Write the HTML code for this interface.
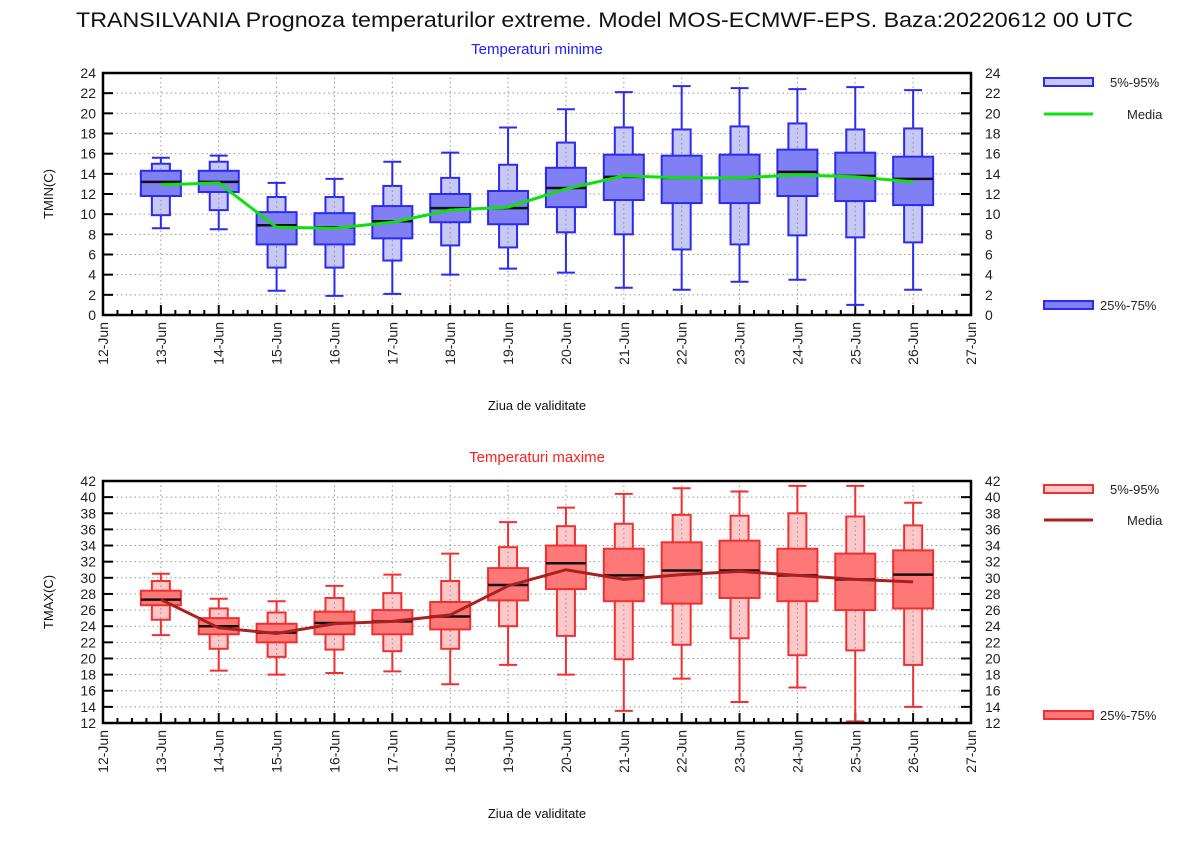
<!DOCTYPE html>
<html><head><meta charset="utf-8"><style>
html,body{margin:0;padding:0;background:#fff;}
svg text{font-family:"Liberation Sans",sans-serif;}
</style></head><body>
<svg id="s" width="1200" height="840" xmlns="http://www.w3.org/2000/svg"></svg>
<script>
const S=document.getElementById('s');let h='';
h+='<text x="76" y="27" font-size="21" fill="#111" textLength="1057" lengthAdjust="spacingAndGlyphs">TRANSILVANIA  Prognoza temperaturilor extreme.  Model MOS-ECMWF-EPS. Baza:20220612 00 UTC</text>';
const days=['12-Jun','13-Jun','14-Jun','15-Jun','16-Jun','17-Jun','18-Jun','19-Jun','20-Jun','21-Jun','22-Jun','23-Jun','24-Jun','25-Jun','26-Jun','27-Jun'];
const X0=103,X1=971,dx=(X1-X0)/15;
function chart(o){
 const {top,bot,vmin,vmax,data,media,title,tcol,ylab,iq,iqs,inn,mcol}=o;
 const Y=v=>bot-(v-vmin)*(bot-top)/(vmax-vmin);
 h+=`<text x="537" y="${top-19}" font-size="15" fill="${tcol}" text-anchor="middle">${title}</text>`;
 for(let v=vmin;v<=vmax;v+=2){const y=Y(v);
  if(v>vmin&&v<vmax)h+=`<line x1="${X0}" x2="${X1}" y1="${y}" y2="${y}" stroke="#999" stroke-dasharray="1.5,3"/>`;
  h+=`<line x1="${X0}" x2="${X0+10}" y1="${y}" y2="${y}" stroke="#000" stroke-width="2"/><line x1="${X1-10}" x2="${X1}" y1="${y}" y2="${y}" stroke="#000" stroke-width="2"/>`;
  h+=`<text x="${X0-7}" y="${y+5}" font-size="14" text-anchor="end" fill="#222">${v}</text><text x="${X1+14}" y="${y+5}" font-size="14" fill="#222">${v}</text>`;}
 for(let i=0;i<=15;i++){const x=X0+i*dx;
  if(i>0&&i<15)h+=`<line x1="${x}" x2="${x}" y1="${top}" y2="${bot}" stroke="#999" stroke-dasharray="1.5,3"/>`;
  h+=`<line x1="${x}" x2="${x}" y1="${bot}" y2="${bot-10}" stroke="#000" stroke-width="2"/>`;
  for(let k=1;k<4;k++){const xx=x+k*dx/4;if(i<15)h+=`<line x1="${xx}" x2="${xx}" y1="${bot}" y2="${bot-5}" stroke="#000" stroke-width="2"/>`;}
  h+=`<text transform="translate(${x+5},${bot+7}) rotate(-90)" font-size="14" text-anchor="end" fill="#222">${days[i]}</text>`;}
 data.forEach((d,i)=>{const x=X0+(i+1)*dx;const [w0,w1,i0,i1,q0,q1,m]=d;
  h+=`<line x1="${x}" x2="${x}" y1="${Y(w0)}" y2="${Y(w1)}" stroke="${iqs}" stroke-width="2"/>`;
  h+=`<line x1="${x-9}" x2="${x+9}" y1="${Y(w0)}" y2="${Y(w0)}" stroke="${iqs}" stroke-width="2"/><line x1="${x-9}" x2="${x+9}" y1="${Y(w1)}" y2="${Y(w1)}" stroke="${iqs}" stroke-width="2"/>`;
  h+=`<rect x="${x-9}" y="${Y(i1)}" width="18" height="${Y(i0)-Y(i1)}" fill="${inn}" stroke="${iqs}" stroke-width="2"/>`;
  h+=`<line x1="${x}" x2="${x}" y1="${Y(i1)}" y2="${Y(i0)}" stroke="#88a" stroke-dasharray="1.5,3"/>`;
  h+=`<rect x="${x-20}" y="${Y(q1)}" width="40" height="${Y(q0)-Y(q1)}" fill="${iq}" stroke="${iqs}" stroke-width="2"/>`;
  h+=`<line x1="${x-20}" x2="${x+20}" y1="${Y(m)}" y2="${Y(m)}" stroke="#111" stroke-width="2.5"/>`;});
 h+=`<polyline fill="none" stroke="${mcol}" stroke-width="3" points="${media.map((v,i)=>(X0+(i+1)*dx)+','+Y(v)).join(' ')}"/>`;
 h+=`<rect x="${X0}" y="${top}" width="${X1-X0}" height="${bot-top}" fill="none" stroke="#000" stroke-width="2.5"/>`;
 h+=`<text transform="translate(53,${(top+bot)/2}) rotate(-90)" font-size="13" text-anchor="middle" fill="#111">${ylab}</text>`;
 h+=`<text x="537" y="${bot+95}" font-size="13" text-anchor="middle" fill="#111">Ziua de validitate</text>`;
 const L=o.leg;
 h+=`<rect x="1044" y="${L[0]-4}" width="49" height="8" fill="${inn}" stroke="${iqs}" stroke-width="2"/><text x="1110" y="${L[0]+5}" font-size="13" fill="#222">5%-95%</text>`;
 h+=`<line x1="1044" x2="1093" y1="${L[1]}" y2="${L[1]}" stroke="${mcol}" stroke-width="3"/><text x="1127" y="${L[1]+5}" font-size="13" fill="#222">Media</text>`;
 h+=`<rect x="1044" y="${L[2]-4}" width="49" height="8" fill="${iq}" stroke="${iqs}" stroke-width="2"/><text x="1100" y="${L[2]+5}" font-size="13" fill="#222">25%-75%</text>`;
}
chart({top:73,bot:315,vmin:0,vmax:24,title:'Temperaturi minime',tcol:'#2020ff',ylab:'TMIN(C)',iq:'#8080f4',iqs:'#2a2af0',inn:'#c8c8f4',mcol:'#10e010',leg:[82,114,305],
data:[[8.6,15.6,9.9,15,11.8,14.3,13.2],[8.5,15.8,10.4,15.2,12.2,14.3,13.2],[2.4,13.1,4.7,11.7,7,10.2,8.9],[1.9,13.5,4.7,11.7,7,10.1,8.7],[2.1,15.2,5.4,12.8,7.6,10.8,9.3],[4,16.1,6.9,13.6,9.2,12,10.6],[4.6,18.6,6.7,14.9,9,12.3,10.6],[4.2,20.4,8.2,17.1,10.7,14.6,12.6],[2.7,22.1,8,18.6,11.4,15.9,13.7],[2.5,22.7,6.5,18.4,11.1,15.8,13.6],[3.3,22.5,7,18.7,11.1,15.9,13.6],[3.5,22.4,7.9,19,11.8,16.4,14.2],[1,22.6,7.7,18.4,11.3,16.1,13.8],[2.5,22.3,7.2,18.5,10.9,15.7,13.5]],
media:[12.9,13.1,8.7,8.6,9.2,10.4,10.7,12.5,13.8,13.6,13.6,13.9,13.7,13.2]});
chart({top:481,bot:723,vmin:12,vmax:42,title:'Temperaturi maxime',tcol:'#ff2020',ylab:'TMAX(C)',iq:'#ff7878',iqs:'#f03030',inn:'#ffc8c8',mcol:'#a82020',leg:[489,520,715],
data:[[22.9,30.5,24.8,29.6,26.6,28.4,27.3],[18.5,27.4,21.2,26.2,23,25,24],[18,27.1,20.2,25.7,22,24.3,23.2],[18.2,29,21.1,27.5,23,25.8,24.4],[18.4,30.4,20.9,28.1,23,26,24.6],[16.8,33,21.2,29.6,23.6,27,25.2],[19.2,36.9,24,33.8,27.2,31.2,29.1],[18,38.7,22.8,36.4,28.6,34,31.8],[13.5,40.4,19.9,36.7,27.1,33.6,30.3],[17.5,41.1,21.7,37.8,26.8,34.4,30.9],[14.6,40.7,22.5,37.7,27.5,34.6,30.9],[16.4,41.4,20.4,38,27.1,33.6,30.3],[12.2,41.4,21,37.6,26,33,29.8],[14,39.3,19.2,36.5,26.2,33.4,30.4]],
media:[27.3,23.8,23.1,24.3,24.6,25.4,29,31,29.8,30.4,30.8,30.3,29.8,29.5]});
S.innerHTML=h;
</script>
</body></html>
